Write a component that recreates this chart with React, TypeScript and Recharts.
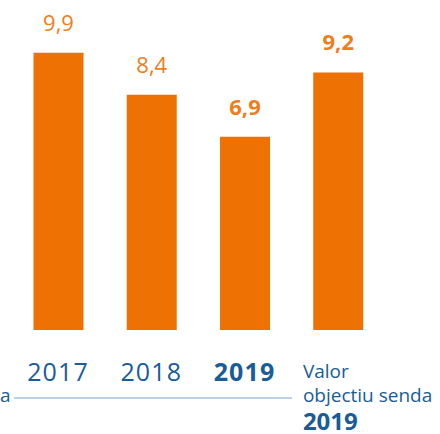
import { Bar, BarChart, Cell, Customized, LabelList, XAxis, YAxis } from "recharts";

const categories = ["2017", "2018", "2019", "Valor objectiu senda 2019"];
const values = [9.9, 8.4, 6.9, 9.2];
const valueLabels = ["9,9", "8,4", "6,9", "9,2"];
const boldLabel = [false, false, true, true];

const data = categories.map((cat, i) => ({ cat, value: values[i], label: valueLabels[i], bold: boldLabel[i] }));

const orange = "#EE7203";
const labelOrange = "#F07D1A";
const blue = "#185C98";
const font = "'Open Sans', sans-serif";

function YearTick(props: any) {
  const { x, y, payload, index } = props;
  if (index === 3) {
    const left = x - 35;
    return (
      <g fontFamily={font} fill={blue}>
        <text x={left} y={y + 40} fontSize={19} textAnchor="start">Valor</text>
        <text x={left} y={y + 64} fontSize={19} textAnchor="start">objectiu senda</text>
        <text x={left} y={y + 92} fontSize={24} fontWeight={700} textAnchor="start">2019</text>
      </g>
    );
  }
  return (
    <text x={x} y={y + 43} fontFamily={font} fontSize={25} letterSpacing={1.2} fill={blue}
      fontWeight={index === 2 ? 700 : 400} textAnchor="middle">
      {payload.value}
    </text>
  );
}

function ValueLabel(props: any) {
  const { x, y, width, index } = props;
  return (
    <text x={x + width / 2} y={y - 22} fontFamily={font} fontSize={22} fill={labelOrange}
      fontWeight={data[index].bold ? 700 : 400} textAnchor="middle">
      {data[index].label}
    </text>
  );
}

function Decor() {
  return (
    <g>
      <line x1={14} x2={292} y1={398} y2={398} stroke="#A9C1DF" strokeWidth={1.5} />
      <text x={0} y={402} fontFamily={font} fontSize={19} fill={blue} textAnchor="start">a</text>
    </g>
  );
}

export default function App() {
  return (
    <div style={{ position: "absolute", left: 0, top: 0, width: 440, height: 434, background: "#fff" }}>
      <BarChart width={440} height={434} data={data} margin={{ top: 22, right: 55.5, bottom: 0, left: 11.5 }}
        barSize={50}>
        <XAxis dataKey="cat" axisLine={false} tickLine={false} tick={<YearTick />} interval={0} height={104} />
        <YAxis hide domain={[0, 11]} />
        <Bar dataKey="value" fill={orange} isAnimationActive={false}>
          {data.map((_, i) => (
            <Cell key={i} fill={orange} />
          ))}
          <LabelList dataKey="label" content={<ValueLabel />} />
        </Bar>
        <Customized component={Decor} />
      </BarChart>
    </div>
  );
}
